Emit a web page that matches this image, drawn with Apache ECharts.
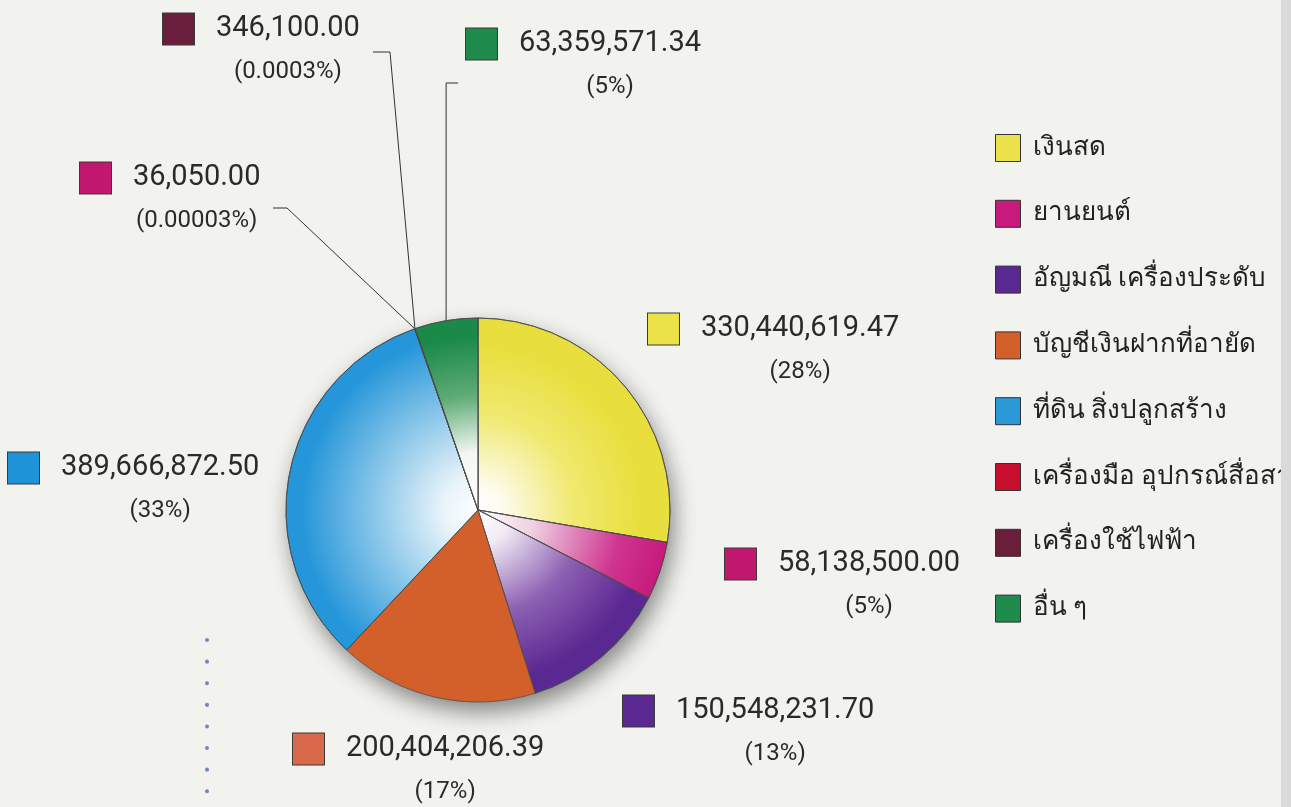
<!DOCTYPE html>
<html>
<head>
<meta charset="utf-8">
<script src="https://cdn.jsdelivr.net/npm/echarts@6/dist/echarts.min.js"></script>
<style>
    * { margin: 0; padding: 0; }
    html, body { width: 1291px; height: 807px; background: #f2f3ef; }
    #chart { width: 1291px; height: 807px; }
</style>
</head>
<body>
<div id="chart"></div>
<script>
    // ประเภททรัพย์สิน
    var categories = ['เงินสด', 'ยานยนต์', 'อัญมณี เครื่องประดับ', 'บัญชีเงินฝากที่อายัด',
        'ที่ดิน สิ่งปลูกสร้าง', 'เครื่องมือ อุปกรณ์สื่อสาร', 'เครื่องใช้ไฟฟ้า', 'อื่น ๆ'];
    // มูลค่า (บาท)
    var values = [330440619.47, 58138500.00, 150548231.70, 200404206.39,
        389666872.50, 36050.00, 346100.00, 63359571.34];
    // ข้อความที่พิมพ์ในภาพ
    var valueLabels = ['330,440,619.47', '58,138,500.00', '150,548,231.70', '200,404,206.39',
        '389,666,872.50', '36,050.00', '346,100.00', '63,359,571.34'];
    var percentLabels = ['(28%)', '(5%)', '(13%)', '(17%)', '(33%)', '(0.00003%)', '(0.0003%)', '(5%)'];

    // สี
    var baseColors = ['#ebe24a', '#c81a7d', '#5a2891', '#d3602b', '#2b98da', '#c8102e', '#6b1e3c', '#1e8a4b'];
    var boxColors  = ['#ebe24a', '#c2176f', '#5a2891', '#d8694a', '#1f93d8', '#c2176f', '#6b1e3c', '#1e8a4b'];

    var CX = 478, CY = 510, R = 192;

    function grad(stops) {
        return {
            type: 'radial', x: CX, y: CY, r: R, global: true,
            colorStops: stops.map(function (s) { return { offset: s[0], color: s[1] }; })
        };
    }
    var fills = [
        grad([[0, '#ffffff'], [0.12, '#fdfcf0'], [0.5, '#f0e96f'], [0.85, '#e8df3e']]),
        grad([[0, '#ffffff'], [0.3, '#eed0e2'], [0.75, '#cf3590'], [1, '#c61a7c']]),
        grad([[0, '#ffffff'], [0.18, '#f1ebf5'], [0.55, '#8c60b2'], [0.9, '#5a2891']]),
        '#d3602b',
        grad([[0, '#ffffff'], [0.18, '#e9f4fa'], [0.58, '#7fc1e8'], [0.92, '#2596d9']]),
        '#c8102e',
        '#6b1e3c',
        grad([[0, '#ffffff'], [0.3, '#f3f7f3'], [0.6, '#5eab75'], [0.9, '#1b8a49']])
    ];

    // ตำแหน่งป้าย (มุมซ้ายบนของกล่องสี)
    var labelAnchors = [[648, 313], [725, 548], [623, 695], [293, 733],
        [8, 452], [80, 162], [163, 13], [466, 28]];

    var pieData = categories.map(function (name, i) {
        var rich = {};
        rich['b' + i] = {
            width: 31, height: 31, backgroundColor: boxColors[i],
            borderColor: '#3a3a3a', borderWidth: 1
        };
        return {
            name: name,
            value: values[i],
            itemStyle: { color: fills[i] },
            label: {
                formatter: '{b' + i + '|}{val|' + valueLabels[i] + '}\n{pct|' + percentLabels[i] + '}',
                rich: rich
            },
            labelLine: { show: i >= 5 }
        };
    });

    var option = {
        backgroundColor: '#f2f3ef',
        textStyle: { fontFamily: 'Roboto, "Liberation Sans", sans-serif' },
        legend: {
            orient: 'vertical',
            left: 990,
            top: 129,
            itemWidth: 25,
            itemHeight: 27,
            itemGap: 37.8,
            icon: 'rect',
            data: categories.map(function (name, i) {
                return { name: name, itemStyle: { color: baseColors[i], borderColor: '#333', borderWidth: 1 } };
            }),
            textStyle: { fontSize: 26, color: '#222', padding: [0, 0, 0, 7] },
            selectedMode: false
        },
        graphic: [
            {
                type: 'line', silent: true,
                shape: { x1: 207, y1: 640, x2: 207, y2: 807 },
                style: { stroke: '#6f86c9', lineWidth: 4, lineCap: 'round', lineDash: [0.1, 21.5] }
            },
            {
                type: 'rect', silent: true, z: 100,
                shape: { x: 1281, y: 0, width: 10, height: 807 },
                style: { fill: '#d9dad9' }
            }
        ],
        series: [
            {
                // เงาใต้วงกลม
                type: 'pie', silent: true, z: 1,
                center: [CX, CY], radius: R,
                label: { show: false }, labelLine: { show: false },
                itemStyle: {
                    color: '#cfd0cc', shadowBlur: 22, shadowOffsetX: 4, shadowOffsetY: 10,
                    shadowColor: 'rgba(0,0,0,0.45)'
                },
                data: [{ value: 1, name: '_shadow' }]
            },
            {
                name: 'ทรัพย์สิน',
                type: 'pie',
                z: 2,
                center: [CX, CY],
                radius: R,
                startAngle: 90,
                clockwise: true,
                avoidLabelOverlap: false,
                itemStyle: { borderColor: '#4a4a4a', borderWidth: 0.8 },
                emphasis: { disabled: true },
                label: {
                    show: true,
                    color: '#2a2a2a',
                    rich: {
                        val: { fontSize: 29, lineHeight: 38, padding: [0, 0, 0, 22], color: '#2a2a2a' },
                        pct: { fontSize: 24, lineHeight: 48, padding: [0, 0, 0, 53], align: 'center', color: '#2a2a2a' }
                    }
                },
                labelLine: { show: false, lineStyle: { color: '#333', width: 1 } },
                labelLayout: function (params) {
                    var i = params.dataIndex;
                    var a = labelAnchors[i];
                    var res = { x: a[0], y: a[1] - 3, align: 'left', verticalAlign: 'top' };
                    var p0 = params.labelLinePoints ? params.labelLinePoints[0] : null;
                    if (p0) {
                        if (i === 5) {
                            res.labelLinePoints = [p0, [a[0] + 207, a[1] + 46], [a[0] + 193, a[1] + 46]];
                        } else if (i === 6) {
                            res.labelLinePoints = [p0, [a[0] + 227, a[1] + 39], [a[0] + 210, a[1] + 39]];
                        } else if (i === 7) {
                            res.labelLinePoints = [p0, [p0[0], a[1] + 55], [p0[0] + 12, a[1] + 55]];
                        }
                    }
                    return res;
                },
                data: pieData
            }
        ]
    };

    var myChart = echarts.init(document.getElementById('chart'));
    myChart.setOption(option);
</script>
</body>
</html>
